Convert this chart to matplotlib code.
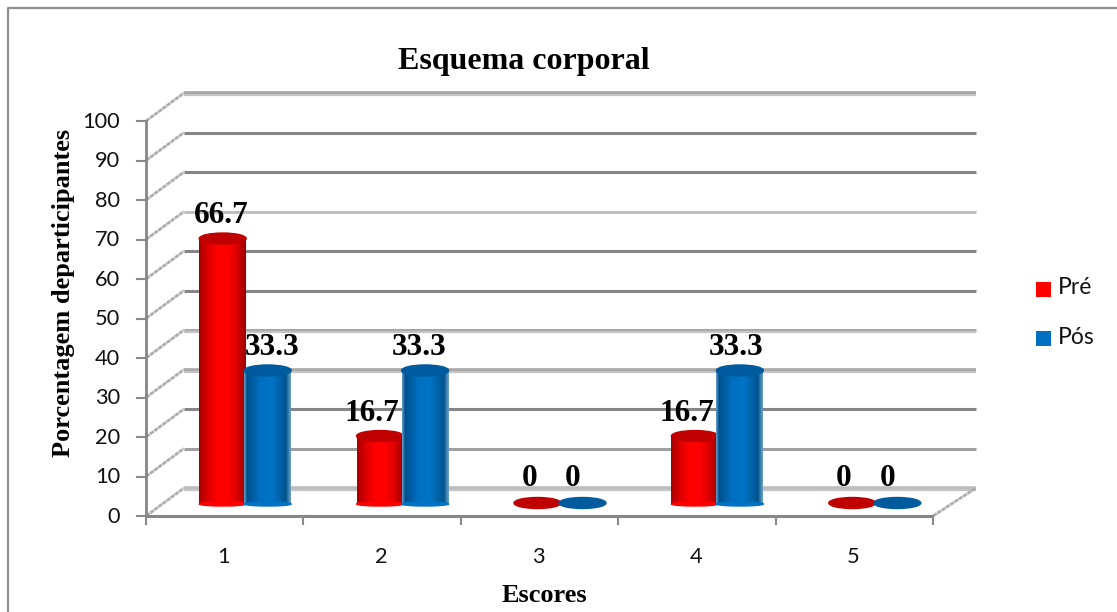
import numpy as np
import matplotlib
matplotlib.use("Agg")
import matplotlib.pyplot as plt
from matplotlib.patches import Ellipse, Rectangle
from matplotlib.colors import LinearSegmentedColormap

categories = ["1", "2", "3", "4", "5"]
pre = [66.7, 16.7, 0, 16.7, 0]
pos = [33.3, 33.3, 0, 33.3, 0]
pre_labels = ["66.7", "16.7", "0", "16.7", "0"]
pos_labels = ["33.3", "33.3", "0", "33.3", "0"]
yticks = list(range(0, 101, 10))
grid_colors = ["#bcbcbc", "#a0a0a0", "#868686", "#a8a8a8", "#a8a8a8", "#868686",
               "#868686", "#c0c0c0", "#868686", "#868686", "#a5a5a5"]

W, H = 1117, 612
L, R, T, B = 146, 933, 121, 516
fig = plt.figure(figsize=(W / 100, H / 100), dpi=100, facecolor="white")
ax = fig.add_axes([L / W, 1 - B / H, (R - L) / W, (B - T) / H])
ax.set_xlim(0.5, 5.5)
ax.set_ylim(0, 100)
ax.axis("off")

px = 5 / (R - L)       # data units per pixel, x
py = 100 / (B - T)     # data units per pixel, y

serif = "Liberation Serif"
sans = "Lato"

# frame of the chart
fig.add_artist(plt.Line2D([8 / W, 8 / W, 1], [0, 1 - 8 / H, 1 - 8 / H], color="#8e8e8e", lw=1.6))

# back wall gridlines and side wall diagonals
x_back0 = 0.5 + 38 * px
x_back1 = 5.5 + 43 * px
dy = 28 * py
for v, c in zip(yticks, grid_colors):
    ax.plot([x_back0, x_back1], [v + dy, v + dy], color=c, lw=2.2 if v not in (0, 30, 100) else 2.6,
            clip_on=False, zorder=1, solid_capstyle="butt")
    if v in (0, 30, 40, 100):
        ax.plot([x_back0, x_back1], [v + dy - 0.6, v + dy - 0.6], color="#c4c4c4", lw=1.6,
                clip_on=False, zorder=1, solid_capstyle="butt")
    ax.plot([0.5, x_back0], [v, v + dy], color="#adadad", lw=2.0, ls=(0, (1.6, 0.25)),
            clip_on=False, zorder=1)
    ax.plot([0.5 - 9 * px, 0.5], [v, v], color="#8a8a8a", lw=1.5, clip_on=False, zorder=3)
    ax.text(0.5 - 26 * px, v - 0.2, str(v), ha="right", va="center", fontsize=15.7,
            family=sans, color="#111111")

# floor edge on the right
ax.plot([5.5, x_back1], [0, dy], color="#adadad", lw=2.0, ls=(0, (1.6, 0.25)), clip_on=False, zorder=1)

# axes lines
ax.plot([0.5, 0.5], [0, 100], color="#868686", lw=2, clip_on=False, zorder=3)
ax.plot([0.5, 5.5], [0, 0], color="#868686", lw=2.2, clip_on=False, zorder=3, solid_capstyle="butt")
for i in range(6):
    ax.plot([0.5 + i] * 2, [0, -8 * py], color="#8a8a8a", lw=1.5, clip_on=False, zorder=3)
for i, c in enumerate(categories):
    ax.text(i + 1 - 0.005, -41 * py, c, ha="center", va="center", fontsize=15.7, family=sans, color="#111111")


def cmap(colors):
    return LinearSegmentedColormap.from_list("c", colors)


red_map = cmap(["#a80000", "#e00000", "#ff0000", "#ff0000", "#e00000", "#9c0000"])
blue_map = cmap([(0, "#5f9ac4"), (0.06, "#00508e"), (0.35, "#0070c0"), (0.6, "#0074c6"),
                 (0.9, "#00548f"), (1, "#6a9fc4")])
red_top, blue_top = "#c00000", "#005a9e"
base = 14 * py
bw = 47 * px
eh = 11 * py


def cylinder(xc, v, m, top, z):
    x0, x1 = xc - bw / 2, xc + bw / 2
    yb, yt = 12 * py, base + v
    if v > 0:
        body = Rectangle((x0, yb), bw, yt - yb, transform=ax.transData)
        im = ax.imshow(np.linspace(0, 1, 64)[None, :], cmap=m, extent=(x0, x1, yb, yt),
                       aspect="auto", zorder=z, clip_on=True)
        im.set_clip_path(body)
        ax.add_patch(Ellipse((xc, yb), bw, 4 * py, color=m(0.5), zorder=z, clip_on=False))
        ax.add_patch(Ellipse((xc, yt), bw, eh, color=top, zorder=z + 0.1, clip_on=False))
    else:
        ax.add_patch(Ellipse((xc, base - 1 * py), bw, eh, color=top, zorder=z + 0.1, clip_on=False))


for i in range(len(categories)):
    xc_pre = i + 1 - 2 * px
    xc_pos = xc_pre + 45 * px
    cylinder(xc_pre, pre[i], red_map, red_top, 4.2)
    cylinder(xc_pos, pos[i], blue_map, blue_top, 5)

ax.set_xlim(0.5, 5.5)
ax.set_ylim(0, 100)

# data labels (offsets from the bar top, in pixels)
lab_pre_dx = [-1, -8, -8, -8, -9]
lab_pos_dx = [4, -6, -10, -4, -10]
lab_dy = 23
for i in range(len(categories)):
    xc_pre = i + 1 - 2 * px
    xc_pos = xc_pre + 45 * px
    ax.text(xc_pre + lab_pre_dx[i] * px, pre[i] + base + lab_dy * py, pre_labels[i], ha="center", va="center",
            fontsize=22.5, fontweight="bold", family=serif, color="black", zorder=8, clip_on=False)
    ax.text(xc_pos + lab_pos_dx[i] * px, pos[i] + base + lab_dy * py, pos_labels[i], ha="center", va="center",
            fontsize=22.5, fontweight="bold", family=serif, color="black", zorder=8, clip_on=False)

# title and axis titles
fig.text(524 / W, 1 - 61 / H, "Esquema corporal", ha="center", va="center", fontsize=23, fontweight="bold", family=serif)
fig.text(544 / W, 1 - 595 / H, "Escores", ha="center", va="center", fontsize=19, fontweight="bold", family=serif)
fig.text(64 / W, 1 - 293 / H, "Porcentagem departicipantes", rotation=90, ha="center", va="center",
         fontsize=19, fontweight="bold", family=serif)

# legend
for name, col, yc, ty in [("Pré", "#ff0000", 289, 287), ("Pós", "#0070c0", 338, 337)]:
    fig.add_artist(Rectangle((1036 / W, 1 - (yc + 8) / H), 15 / W, 15 / H, transform=fig.transFigure,
                             facecolor=col, edgecolor="none"))
    fig.text(1058 / W, 1 - ty / H, name, ha="left", va="center", fontsize=16.5, family=sans, color="#111111")

fig.savefig("out.png", dpi=100, facecolor="white")
